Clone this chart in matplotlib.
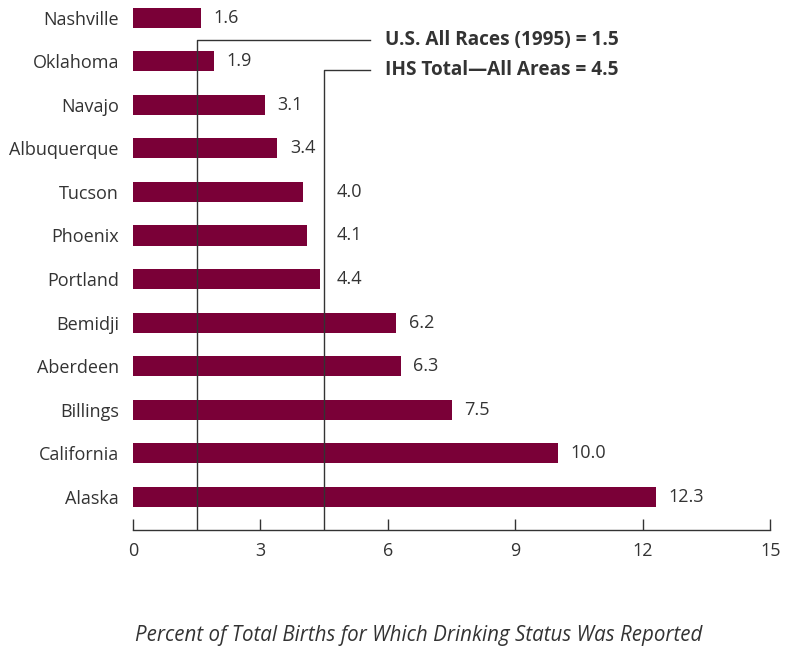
import matplotlib

matplotlib.use("Agg")

import matplotlib.pyplot as plt

# Datos (de abajo hacia arriba)
areas = ["Alaska", "California", "Billings", "Aberdeen", "Bemidji", "Portland",
         "Phoenix", "Tucson", "Albuquerque", "Navajo", "Oklahoma", "Nashville"]
porcentajes = [12.3, 10.0, 7.5, 6.3, 6.2, 4.4, 4.1, 4.0, 3.4, 3.1, 1.9, 1.6]
ref_us = 1.5
ref_ihs = 4.5
etiqueta_us = "U.S. All Races (1995) = 1.5"
etiqueta_ihs = "IHS Total\u2014All Areas = 4.5"
ticks_x = [0, 3, 6, 9, 12, 15]
titulo_x = "Percent of Total Births for Which Drinking Status Was Reported"

COLOR_BARRA = "#7a0037"
COLOR_TEXTO = "#333333"

plt.rcParams["font.family"] = ["Open Sans", "DejaVu Sans"]

figura = plt.figure(figsize=(7.86, 6.5), dpi=100)
eje = figura.add_axes([0.169, 0.185, 0.811, 0.815])

posiciones = list(range(len(areas)))
eje.barh(posiciones, porcentajes, height=0.46, color=COLOR_BARRA, zorder=2)

# Etiquetas de valor; se corren a la derecha si chocan con la linea IHS.
for y, v in zip(posiciones, porcentajes):
    x_txt = v + 0.3
    if v < ref_ihs and ref_ihs - v < 0.8:
        x_txt = ref_ihs + 0.3
    eje.text(x_txt, y, f"{v:.1f}", ha="left", va="center",
             fontsize=13, color=COLOR_TEXTO)

# Lineas de referencia con sus conectores
y_us = 10.5
y_ihs = 9.81
x_codo = 5.58
eje.plot([ref_us, ref_us, x_codo], [-0.76, y_us, y_us],
         color=COLOR_TEXTO, linewidth=1.0, zorder=3)
eje.plot([ref_ihs, ref_ihs, x_codo], [-0.76, y_ihs, y_ihs],
         color=COLOR_TEXTO, linewidth=1.0, zorder=3)
eje.text(5.93, y_us, etiqueta_us, ha="left", va="center",
         fontsize=13.7, fontweight="bold", color=COLOR_TEXTO)
eje.text(5.93, y_ihs, etiqueta_ihs, ha="left", va="center",
         fontsize=13.7, fontweight="bold", color=COLOR_TEXTO)

eje.set_xlim(0, 15)
eje.set_ylim(-0.76, 11.41)
eje.set_yticks(posiciones)
eje.set_yticklabels(areas, fontsize=13, color=COLOR_TEXTO)
eje.tick_params(axis="y", length=0, pad=10)
eje.set_xticks(ticks_x)
eje.tick_params(axis="x", direction="in", length=8, width=1.0,
                color=COLOR_TEXTO, labelsize=13, labelcolor=COLOR_TEXTO, pad=9)

for lado in ["left", "right", "top"]:
    eje.spines[lado].set_visible(False)
eje.spines["bottom"].set_color(COLOR_TEXTO)
eje.spines["bottom"].set_linewidth(1.0)

figura.text(135 / 786, 1 - 635 / 650, titulo_x, ha="left", va="center",
            fontsize=14.8, style="italic", color=COLOR_TEXTO)

figura.savefig("out.png", dpi=100)
plt.close(figura)
